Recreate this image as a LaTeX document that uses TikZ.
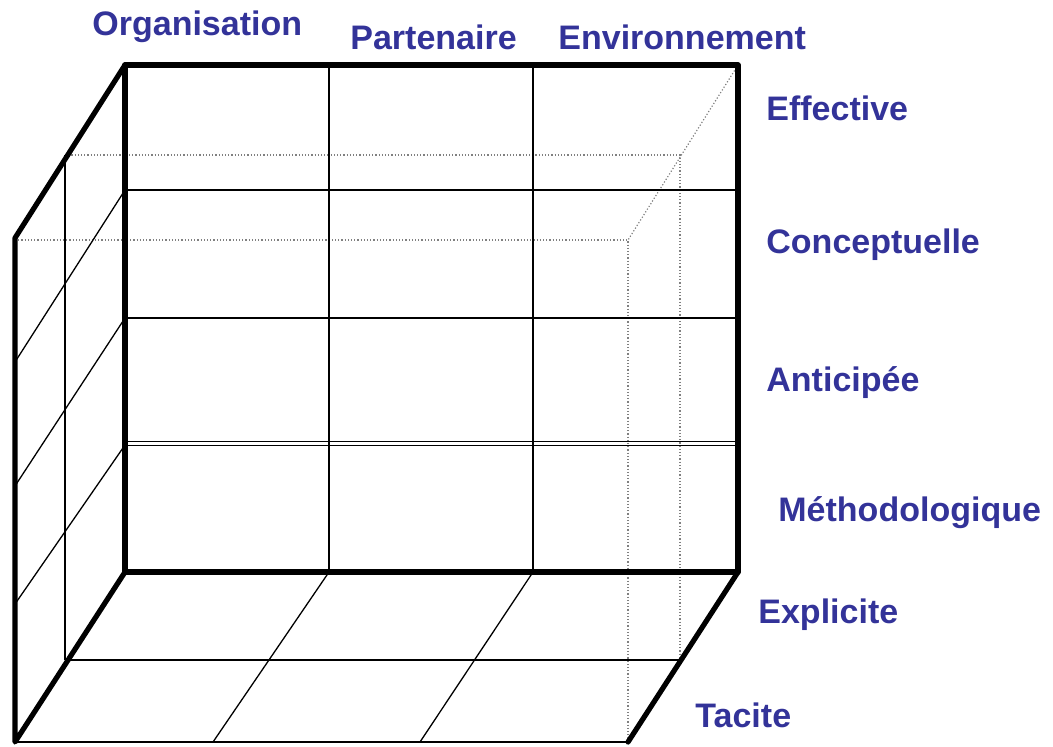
\documentclass[tikz,border=0pt]{standalone}
\usepackage{fontspec}
\setmainfont{Liberation Sans}
\usepackage{xcolor}
\definecolor{navy}{RGB}{51,51,153}
\tikzset{
    cadre/.style={line width=2.6pt,line cap=round,line join=round},
    grille/.style={line width=0.65pt},
    cache/.style={line width=0.6pt,densely dotted,gray},
    etiquette/.style={anchor=west,text=navy,font=\bfseries\fontsize{17}{17}\selectfont,inner sep=0pt}
}

\begin{document}
\begin{tikzpicture}[x=0.5pt,y=-0.5pt]
\useasboundingbox (0,0) rectangle (1053,746);

% hidden edges
\draw[cache] (65,155) -- (680,155) -- (680,660);
\draw[cache] (15,240) -- (628,240) -- (628,742);
\draw[cache] (738,65) -- (628,240);

% back face grid
\draw[grille] (329,65) -- (329,572);
\draw[grille] (533,65) -- (533,572);
\draw[grille] (125,190) -- (738,190);
\draw[grille] (125,318) -- (738,318);
\draw[grille] (125,441.5) -- (738,441.5);
\draw[grille] (125,445.5) -- (738,445.5);

% left wall
\draw[grille] (65,155) -- (65,660);
\draw[grille] (125,190) -- (15,362);
\draw[grille] (125,318) -- (15,486);
\draw[grille] (125,445) -- (15,604);

% floor
\draw[grille] (65,660) -- (680,660);
\draw[grille] (329,572) -- (213,742);
\draw[grille] (533,572) -- (420,742);
\draw[line width=0.9pt] (15,742) -- (628,742);

% thick edges
\draw[cadre] (125,65) rectangle (738,572);
\draw[cadre] (125,65) -- (15,238) -- (15,742) -- (125,572);
\draw[cadre] (738,572) -- (628,742);

% labels
\node[etiquette] at (92,27) {Organisation};
\node[etiquette] at (350,37) {Partenaire};
\node[etiquette] at (558,37) {Environnement};
\node[etiquette] at (766,108) {Effective};
\node[etiquette] at (766,245) {Conceptuelle};
\node[etiquette] at (766,383) {Anticipée};
\node[etiquette] at (778,513) {Méthodologique};
\node[etiquette] at (758,615) {Explicite};
\node[etiquette] at (695,715) {Tacite};
\end{tikzpicture}
\end{document}
